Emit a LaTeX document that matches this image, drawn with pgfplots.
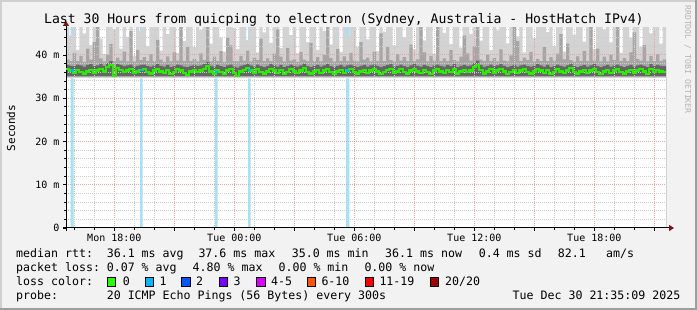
\documentclass[border=0pt]{standalone}
\usepackage{fontspec}
\setmainfont{DejaVu Sans Mono}
\usepackage{pgfplots}
\pgfplotsset{compat=1.18}
\usepackage{pgfplotstable}
\usetikzlibrary{arrows.meta}
\definecolor{bgcol}{HTML}{F2F2F2}
\definecolor{shadeA}{HTML}{D0D0D0}
\definecolor{shadeB}{HTML}{9E9E9E}
\definecolor{smokeL}{HTML}{D3D3D3}
\definecolor{smokeM}{HTML}{A6A6A6}
\definecolor{smokeD}{HTML}{666666}
\definecolor{medgreen}{HTML}{26F000}
\definecolor{lossA}{HTML}{26FF00}
\definecolor{lossB}{HTML}{00B8FF}
\definecolor{lossC}{HTML}{0059FF}
\definecolor{lossD}{HTML}{7E00FF}
\definecolor{lossE}{HTML}{DD00FF}
\definecolor{lossF}{HTML}{FF5500}
\definecolor{lossG}{HTML}{FF0000}
\definecolor{lossH}{HTML}{A10000}
\definecolor{lossbar}{HTML}{A4E2F9}
\definecolor{mgrid}{HTML}{F0A0A0}
\definecolor{ggrid}{HTML}{CDCDCD}
\definecolor{arrowred}{HTML}{7F1010}
\definecolor{wmark}{HTML}{B4B4B4}
\newcommand\lgf{\fontsize{11.6bp}{14bp}\selectfont}
\pgfplotstableread{
dk md lt med
37.7 39.0 47 36.7
37.5 38.6 44.5 36.4
37.4 40.5 47 35.9
37.8 38.6 41.2 36.5
37.6 39.8 47 36.0
37.3 38.4 45.0 35.7
37.7 41.5 47 36.2
37.9 38.9 42.3 36.5
37.4 43.0 47 35.9
37.6 47 47 36.4
38.0 39.2 43.8 36.8
37.5 38.5 40.2 36.2
38.1 40.1 47 37.2
38.6 42.5 47 37.6
37.2 38.6 46.0 35.2
37.9 39.4 47 37.0
37.7 38.7 41.5 36.5
37.4 40.8 47 36.0
37.6 38.5 44.2 36.4
37.8 45.5 47 36.7
37.3 38.5 39.8 35.9
37.5 41.2 47 36.2
37.7 38.8 45.5 36.5
37.8 39.5 47 36.7
37.4 38.6 42.0 36.0
37.3 40.2 47 35.7
37.6 38.6 47 36.4
37.9 43.5 47 36.8
37.5 38.9 41.0 36.2
37.3 38.4 47 35.9
37.7 39.7 44.8 36.5
37.2 38.5 47 35.6
37.4 40.6 47 36.0
37.8 38.7 40.5 36.7
37.6 47 47 36.4
37.3 38.6 43.2 35.9
37.2 41.8 47 35.4
37.5 38.6 47 36.2
37.7 39.1 41.8 36.5
37.4 38.5 47 36.0
37.6 40.4 45.8 36.4
37.9 38.8 47 36.8
38.4 47 47 37.4
37.5 38.5 42.6 36.2
37.3 39.6 47 35.7
37.7 38.6 47 36.5
37.4 40.9 44.0 36.0
37.2 38.4 40.8 35.6
37.6 44.0 47 36.4
37.8 42.2 47 36.7
37.3 38.6 46.2 35.9
37.1 38.5 41.4 35.2
37.5 39.8 47 36.2
37.7 38.7 47 36.5
38.0 41.0 43.5 37.0
37.6 38.5 47 36.4
37.3 39.4 47 35.9
37.8 38.8 40.6 36.7
37.4 43.8 47 36.0
37.2 38.6 45.2 35.7
37.5 39.2 47 36.2
37.9 38.6 42.8 36.8
37.6 40.3 47 36.4
37.3 46.0 47 35.9
37.7 39.6 41.6 36.5
37.2 38.5 47 35.6
37.4 41.6 47 36.0
37.8 38.7 44.6 36.7
37.5 39.0 47 36.2
37.3 38.4 40.4 35.9
37.6 40.7 47 36.4
38.0 38.9 47 37.0
37.4 38.6 43.0 36.0
37.2 42.8 47 35.7
37.5 38.6 47 36.2
37.7 39.5 41.2 36.5
37.3 38.5 47 35.9
37.6 40.0 45.6 36.4
37.9 47 47 36.8
37.4 39.3 42.4 36.0
37.2 38.5 47 35.6
37.5 41.4 47 36.2
37.7 38.6 40.7 36.5
37.3 39.7 47 35.9
37.6 38.6 44.4 36.4
37.8 40.5 47 36.7
37.4 38.7 47 36.0
37.2 38.5 41.9 35.7
37.5 43.0 47 36.2
37.7 38.9 47 36.5
37.3 39.4 43.6 35.9
37.6 38.5 47 36.4
37.8 40.8 47 36.7
37.5 38.6 40.9 36.2
37.2 45.0 47 35.6
37.4 38.6 45.4 36.0
37.7 41.9 47 36.5
37.9 38.8 47 36.8
37.3 38.5 42.2 35.9
37.5 40.2 47 36.2
37.8 38.7 47 36.7
37.4 39.5 44.1 36.0
37.2 38.6 47 35.7
37.6 42.4 47 36.4
37.9 38.6 41.3 36.8
37.5 39.0 47 36.2
37.3 47 47 35.9
37.7 40.6 43.4 36.5
37.4 38.5 47 36.0
37.2 39.8 47 35.6
37.6 38.7 40.3 36.4
37.8 47 47 36.7
37.5 38.6 47 36.2
37.3 39.2 45.1 35.9
37.7 38.6 47 36.5
37.4 41.1 42.5 36.0
37.9 38.8 47 36.8
37.2 38.5 47 35.7
37.5 39.6 41.7 36.2
37.7 44.5 47 36.5
37.4 40.4 47 36.0
37.6 38.7 44.9 36.4
38.1 42.0 47 37.2
38.7 47 47 37.6
37.7 38.9 43.3 36.5
37.3 38.6 47 35.7
37.5 40.1 47 36.2
37.8 38.6 41.1 36.7
37.4 39.3 47 35.9
37.6 38.5 45.7 36.4
37.9 41.3 47 36.8
37.5 38.7 47 36.2
37.2 38.5 42.7 35.6
37.4 39.9 47 36.0
37.7 46.5 47 36.5
37.3 43.2 44.3 35.9
37.6 38.6 47 36.4
37.8 39.4 40.6 36.7
37.4 38.8 47 36.0
37.3 40.7 47 35.7
37.5 38.5 43.9 36.2
37.9 39.1 47 36.8
37.6 38.6 47 36.4
37.3 41.8 47 35.9
37.7 38.6 45.3 36.5
37.2 39.5 47 35.6
37.4 38.7 42.1 36.0
37.8 40.3 47 36.7
37.5 44.8 47 36.2
37.3 39.0 40.8 35.9
37.6 42.6 47 36.4
38.0 38.8 47 37.0
37.4 38.5 44.7 36.0
37.2 39.7 47 35.7
37.5 38.6 47 36.2
37.7 40.9 43.1 36.5
37.3 38.6 47 35.9
37.6 47 47 36.4
37.9 38.7 41.4 36.8
37.4 41.5 47 36.0
37.2 38.5 47 35.6
37.5 39.6 45.9 36.2
37.7 38.5 47 36.5
37.3 40.0 42.9 35.9
37.6 38.8 47 36.4
37.8 47 47 36.7
37.4 38.6 40.5 36.0
37.2 39.3 47 35.7
37.5 38.6 47 36.2
37.7 40.6 44.0 36.5
37.3 45.2 47 35.9
37.6 39.1 47 36.4
37.8 38.7 41.8 36.7
37.5 42.3 47 36.2
37.2 38.5 47 35.6
37.9 39.8 45.0 36.8
37.4 38.6 47 36.0
37.7 40.2 47 36.5
37.5 38.6 42.6 36.2
37.4 39.0 47 36.1
37.4 39.0 47 36.1
}\smoke
\begin{document}
\begin{tikzpicture}
\useasboundingbox (0,0) rectangle (697bp,310bp);
\fill[bgcol] (0,0) rectangle (697bp,310bp);
\fill[shadeA] (0,0) rectangle (2bp,310bp);
\fill[shadeA] (0,308bp) rectangle (697bp,310bp);
\fill[shadeB] (695bp,0) rectangle (697bp,310bp);
\fill[shadeB] (0,0) rectangle (697bp,2bp);
\begin{axis}[
  at={(66bp,82bp)}, anchor=south west,
  scale only axis, width=600bp, height=200bp,
  xmin=0, xmax=180, ymin=0, ymax=46.24,
  axis on top,
  axis background/.style={fill=white},
  axis lines=left,
  x axis line style={-{Triangle[length=5bp,width=6bp,color=arrowred]}, shorten >=-8bp, shorten <=-3bp, line width=1bp, black},
  y axis line style={-{Triangle[length=5bp,width=6bp,color=arrowred]}, shorten >=-7bp, shorten <=-3bp, line width=1bp, black},
  xtick={14.5,32.5,50.5,68.5,86.5,104.5,122.5,140.5,158.5,176.5},
  xticklabels={Mon 18:00,,Tue 00:00,,Tue 06:00,,Tue 12:00,,Tue 18:00,},
  minor xtick={2.5,8.5,20.5,26.5,38.5,44.5,56.5,62.5,74.5,80.5,92.5,98.5,110.5,116.5,128.5,134.5,146.5,152.5,164.5,170.5},
  ytick={0,10,20,30,40},
  yticklabels={0,10 m,20 m,30 m,40 m},
  minor ytick={2,4,6,8,12,14,16,18,22,24,26,28,32,34,36,38,42,44,46},
  grid=both,
  major grid style={draw=mgrid, dash pattern=on 1bp off 1bp, line width=1bp},
  minor grid style={draw=ggrid, dash pattern=on 1bp off 1bp, line width=1bp},
  tick align=outside,
  major tick length=3bp, minor tick length=2bp,
  tick style={black, line width=0.8bp},
  ticklabel style={font=\fontsize{10bp}{12bp}\selectfont},
]
% loss bars (full height)
\addplot[const plot, fill=lossbar, draw=none, mark=none] coordinates {(0,0) (1.4,50) (2.3,0) (22.2,50) (23.0,0) (44.7,50) (45.5,0) (54.6,50) (55.4,0) (84.0,50) (85.0,0) (180,0)} \closedcycle;
% smoke
\addplot[const plot, fill=smokeL, draw=none, mark=none] table[x expr=\coordindex, y=lt] {\smoke} \closedcycle;
\addplot[const plot, fill=smokeM, draw=none, mark=none] table[x expr=\coordindex, y=md] {\smoke} \closedcycle;
\addplot[const plot, fill=smokeD, draw=none, mark=none] table[x expr=\coordindex, y=dk] {\smoke} \closedcycle;
\addplot[fill=smokeM, draw=none, mark=none] coordinates {(0,35.2) (180,35.2)} \closedcycle;
\addplot[fill=smokeL, draw=none, mark=none] coordinates {(0,34.9) (180,34.9)} \closedcycle;
\addplot[fill=white, draw=none, mark=none] coordinates {(0,34.6) (180,34.6)} \closedcycle;
% loss bars (below smoke)
\addplot[const plot, fill=lossbar, draw=none, mark=none] coordinates {(0,0) (1.4,34.6) (2.3,0) (22.2,34.6) (23.0,0) (44.7,34.6) (45.5,0) (54.6,34.6) (55.4,0) (84.0,34.6) (85.0,0) (180,0)} \closedcycle;
\end{axis}
% overlay axis for the median line, drawn on top of the grid
\begin{axis}[
  at={(66bp,82bp)}, anchor=south west,
  scale only axis, width=600bp, height=200bp,
  xmin=0, xmax=180, ymin=0, ymax=46.24,
  hide axis,
]
\addplot[const plot, draw=medgreen, line width=2.2bp, mark=none] table[x expr=\coordindex, y=med] {\smoke};
\addplot[draw=lossB, line width=2.2bp, mark=none] coordinates {(1.4,36.4) (2.4,36.4)};
\addplot[draw=lossB, line width=2.2bp, mark=none] coordinates {(22.2,36.5) (23.1,36.5)};
\addplot[draw=lossB, line width=2.2bp, mark=none] coordinates {(44.7,36.1) (45.6,36.1)};
\addplot[draw=lossB, line width=2.2bp, mark=none] coordinates {(54.6,36.6) (55.5,36.6)};
\addplot[draw=lossB, line width=2.2bp, mark=none] coordinates {(84.0,36.4) (85.0,36.4)};
\end{axis}
% title and side texts
\node[anchor=base west, inner sep=0, font=\fontsize{13.1bp}{15bp}\selectfont] at (44bp,286bp) {Last 30 Hours from quicping to electron (Sydney, Australia - HostHatch IPv4)};
\node[rotate=90, inner sep=0, font=\fontsize{11bp}{13bp}\selectfont] at (11bp,182bp) {Seconds};
\node[rotate=-90, anchor=base west, inner sep=0, text=wmark, font=\fontsize{8.2bp}{10bp}\selectfont] at (685bp,305bp) {RRDTOOL / TOBI OETIKER};
% legend
\begin{scope}[every node/.style={anchor=base west, inner sep=0, font=\lgf}]
\node at (16bp,52.5bp) {median rtt:};
\node at (106.6bp,52.5bp) {36.1 ms avg};
\node at (198.3bp,52.5bp) {37.6 ms max};
\node at (291.6bp,52.5bp) {35.0 ms min};
\node at (385bp,52.5bp) {36.1 ms now};
\node at (478.6bp,52.5bp) {0.4 ms sd};
\node at (557.6bp,52.5bp) {82.1};
\node at (606bp,52.5bp) {am/s};
\node at (16bp,38.5bp) {packet loss:};
\node at (106.6bp,38.5bp) {0.07 \% avg};
\node at (192.5bp,38.5bp) {4.80 \% max};
\node at (278.4bp,38.5bp) {0.00 \% min};
\node at (364.3bp,38.5bp) {0.00 \% now};
\node at (16bp,24.5bp) {loss color:};
\node at (122.6bp,24.5bp) {0};
\node at (159.3bp,24.5bp) {1};
\node at (196bp,24.5bp) {2};
\node at (233.3bp,24.5bp) {3};
\node at (271bp,24.5bp) {4-5};
\node at (321.3bp,24.5bp) {6-10};
\node at (379.3bp,24.5bp) {11-19};
\node at (445bp,24.5bp) {20/20};
\node at (16bp,10.5bp) {probe:};
\node at (106.6bp,10.5bp) {20 ICMP Echo Pings (56 Bytes) every 300s};
\node[anchor=base east] at (680.5bp,10.5bp) {Tue Dec 30 21:35:09 2025};
\end{scope}
\begin{scope}[line width=0.8bp]
\filldraw[fill=lossA, draw=black] (107.3bp,24bp) rectangle ++(8.2bp,8.2bp);
\filldraw[fill=lossB, draw=black] (145bp,24bp) rectangle ++(8.2bp,8.2bp);
\filldraw[fill=lossC, draw=black] (181.7bp,24bp) rectangle ++(8.2bp,8.2bp);
\filldraw[fill=lossD, draw=black] (219.3bp,24bp) rectangle ++(8.2bp,8.2bp);
\filldraw[fill=lossE, draw=black] (256.7bp,24bp) rectangle ++(8.2bp,8.2bp);
\filldraw[fill=lossF, draw=black] (307.3bp,24bp) rectangle ++(8.2bp,8.2bp);
\filldraw[fill=lossG, draw=black] (365bp,24bp) rectangle ++(8.2bp,8.2bp);
\filldraw[fill=lossH, draw=black] (430bp,24bp) rectangle ++(8.2bp,8.2bp);
\end{scope}
\end{tikzpicture}
\end{document}
